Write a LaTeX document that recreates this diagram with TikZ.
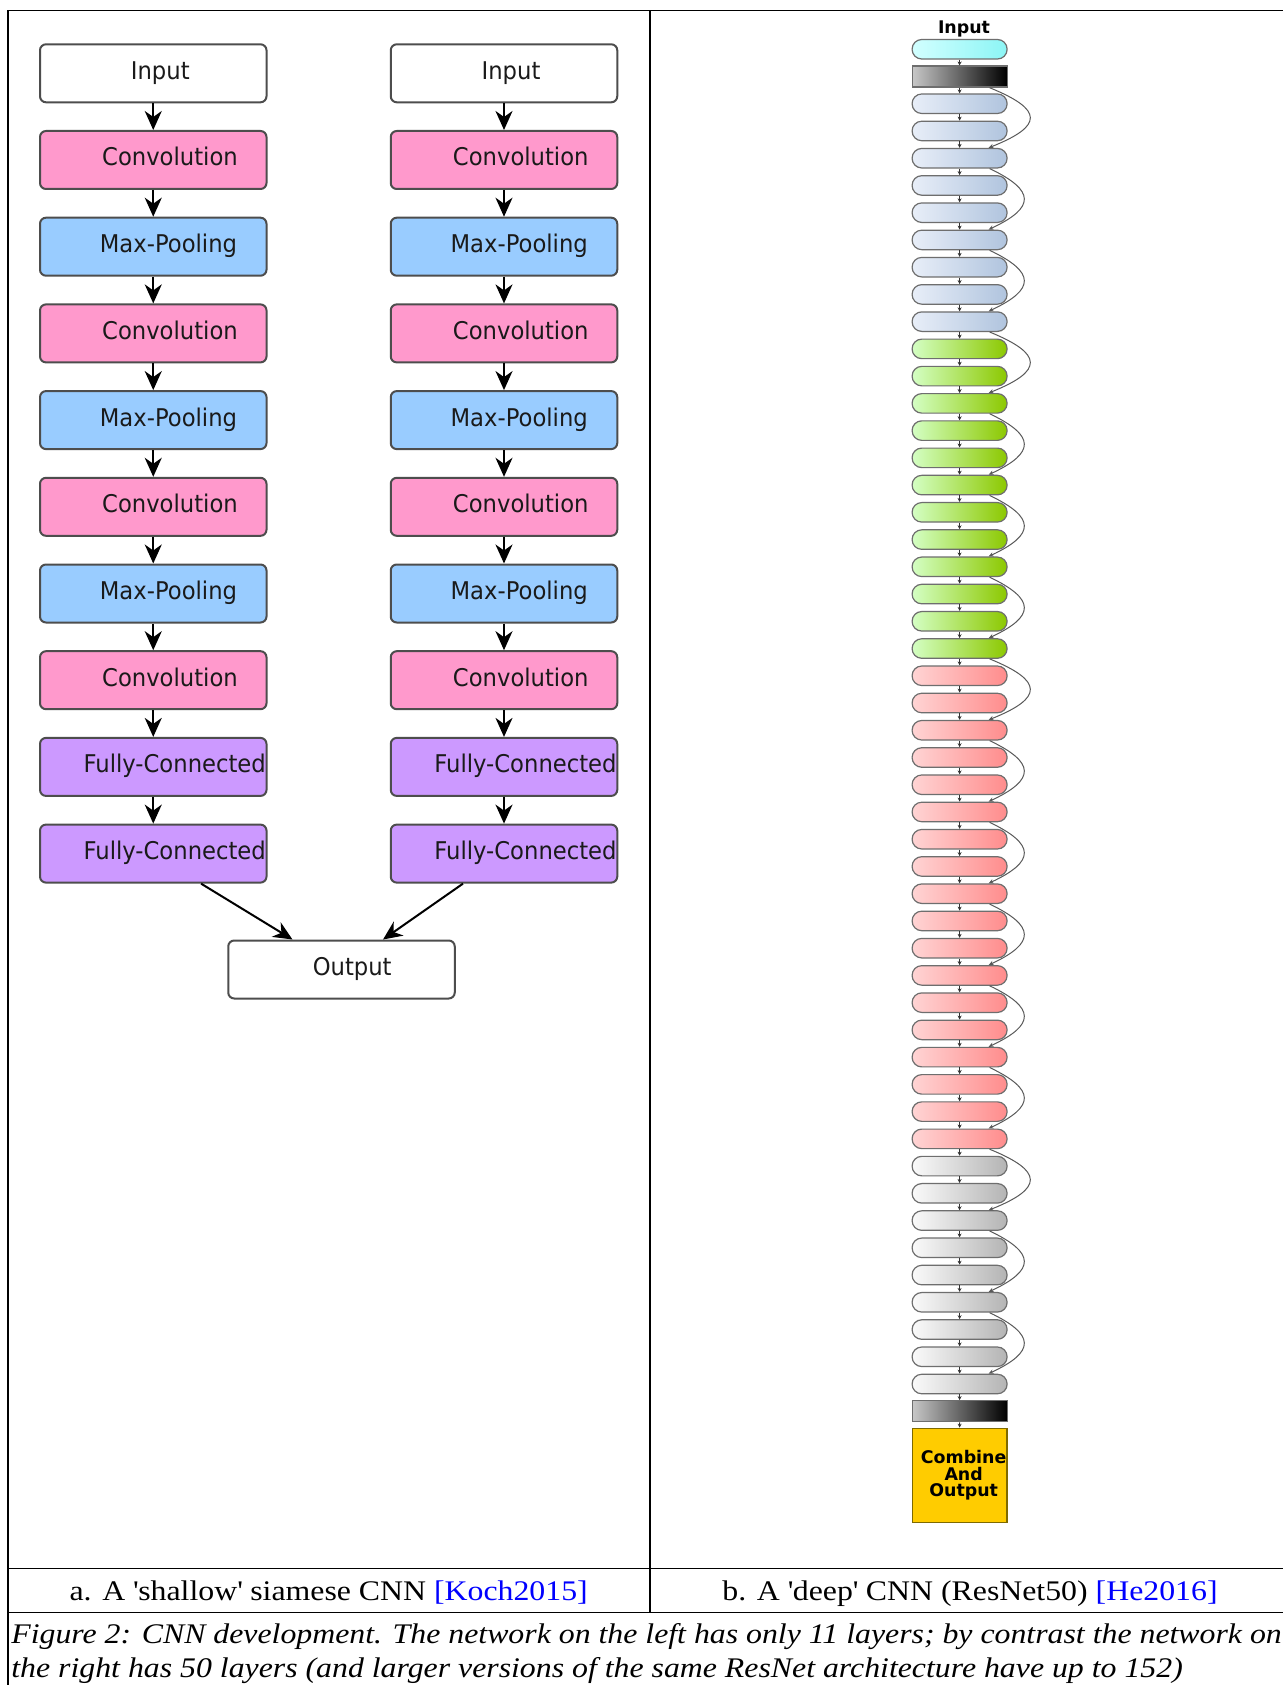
\documentclass[tikz,border=0pt]{standalone}
\usepackage{fontspec}
\usetikzlibrary{arrows.meta}
\newfontfamily\gvfont[FakeStretch=0.93]{DejaVu Sans}
\newfontfamily\rbfont{DejaVu Sans}
\newfontfamily\capfont[FakeStretch=1.12]{Liberation Serif}
\newcommand\capsize{\fontsize{14.2pt}{17pt}\selectfont}
\definecolor{convc}{HTML}{FF99CC}
\definecolor{poolc}{HTML}{99CCFF}
\definecolor{fcc}{HTML}{CC99FF}
\definecolor{boxline}{HTML}{4D4D4D}
\definecolor{gtext}{HTML}{1A1A1A}
\definecolor{pillline}{HTML}{6E6E6E}
\definecolor{cyanL}{HTML}{D2FFFF}
\definecolor{cyanR}{HTML}{8CF5F5}
\definecolor{blueL}{HTML}{E8EEF8}
\definecolor{blueR}{HTML}{B0C4DE}
\definecolor{greenL}{HTML}{D4FFC4}
\definecolor{greenR}{HTML}{8CC800}
\definecolor{redL}{HTML}{FFD4D4}
\definecolor{redR}{HTML}{FF8C8C}
\definecolor{grayL}{HTML}{FAFAFA}
\definecolor{grayR}{HTML}{B4B4B4}
\definecolor{barL}{HTML}{C8C8C8}
\definecolor{barR}{HTML}{000000}
\definecolor{combfill}{HTML}{FFCC00}
\definecolor{combline}{HTML}{7F6A00}
\definecolor{linkblue}{HTML}{0000FF}
\begin{document}
\begin{tikzpicture}[x=0.5pt,y=-0.5pt,
  gbox/.style={draw=boxline, line width=1pt, rounded corners=3pt, minimum width=113.25pt, minimum height=29pt, inner sep=0pt},
  glabel/.style={font=\gvfont\fontsize{12.2pt}{13pt}\selectfont, text=gtext, anchor=base west, inner sep=0pt},
  garr/.style={-{Stealth[length=9.5pt,width=8.5pt,inset=3pt]}, line width=1pt, draw=black},
  pill/.style={draw=pillline, line width=0.6pt, rounded corners=4.8pt, minimum width=47.5pt, minimum height=9.75pt, inner sep=0pt},
  bar/.style={draw=pillline, line width=0.6pt, minimum width=47.5pt, minimum height=10.5pt, inner sep=0pt, left color=barL, right color=barR},
  sarr/.style={-{Stealth[length=2pt,width=2pt]}, line width=0.4pt, draw=black!80},
  skipline/.style={-{Stealth[length=2.5pt,width=2.2pt]}, line width=0.5pt, draw=black!65},
  frameline/.style={line width=0.6pt, draw=black},
  capup/.style={font=\capfont\capsize, anchor=base, inner sep=0pt},
  capit/.style={font=\capfont\itshape\capsize, anchor=base west, inner sep=0pt},
  rlabel/.style={font=\rbfont\bfseries\fontsize{8.7pt}{8.25pt}\selectfont, inner sep=0pt}
]
\fill[white] (0,0) rectangle (1282,1685);
\useasboundingbox (0,0) rectangle (1282,1685);

% ---------- table frame ----------
\draw[frameline] (8,10.5) -- (1295,10.5);
\draw[frameline] (8,10.5) -- (8,1690);
\draw[frameline] (650,10.5) -- (650,1612.7);
\draw[frameline] (8,1568.3) -- (1295,1568.3);
\draw[frameline] (8,1612.7) -- (1295,1612.7);

% ---------- shallow siamese CNN ----------
\foreach \col/\cx in {L/153.25, R/504} {
  \node[gbox, fill=white] (in\col) at (\cx,73.3) {};
  \node[gbox, fill=convc] (c1\col) at (\cx,160.0) {};
  \node[gbox, fill=poolc] (p1\col) at (\cx,246.7) {};
  \node[gbox, fill=convc] (c2\col) at (\cx,333.4) {};
  \node[gbox, fill=poolc] (p2\col) at (\cx,420.1) {};
  \node[gbox, fill=convc] (c3\col) at (\cx,506.8) {};
  \node[gbox, fill=poolc] (p3\col) at (\cx,593.5) {};
  \node[gbox, fill=convc] (c4\col) at (\cx,680.2) {};
  \node[gbox, fill=fcc] (f1\col) at (\cx,766.9) {};
  \node[gbox, fill=fcc] (f2\col) at (\cx,853.6) {};
  \node[glabel] (tin\col) at ([shift={(91.5,6)}]in\col.west) {Input};
  \node[glabel] (tc1\col) at ([shift={(62.8,6)}]c1\col.west) {Convolution};
  \node[glabel] (tp1\col) at ([shift={(60.5,6)}]p1\col.west) {Max-Pooling};
  \node[glabel] (tc2\col) at ([shift={(62.8,6)}]c2\col.west) {Convolution};
  \node[glabel] (tp2\col) at ([shift={(60.5,6)}]p2\col.west) {Max-Pooling};
  \node[glabel] (tc3\col) at ([shift={(62.8,6)}]c3\col.west) {Convolution};
  \node[glabel] (tp3\col) at ([shift={(60.5,6)}]p3\col.west) {Max-Pooling};
  \node[glabel] (tc4\col) at ([shift={(62.8,6)}]c4\col.west) {Convolution};
  \begin{scope}
    \clip (f1\col.south west) rectangle (f1\col.north east);
    \node[glabel] (tf1\col) at ([shift={(44.2,6)}]f1\col.west) {Fully-Connected};
  \end{scope}
  \begin{scope}
    \clip (f2\col.south west) rectangle (f2\col.north east);
    \node[glabel] (tf2\col) at ([shift={(44.2,6)}]f2\col.west) {Fully-Connected};
  \end{scope}
  \foreach \a/\b in {in/c1, c1/p1, p1/c2, c2/p2, p2/c3, c3/p3, p3/c4, c4/f1, f1/f2}
    \draw[garr] (\a\col) -- (\b\col);
}
\node[gbox, fill=white] (outbox) at (341.5,969.5) {};
\node[glabel] (tout) at ([shift={(85.1,6)}]outbox.west) {Output};
\draw[garr] ([xshift=23.9pt]f2L.south) -- ([xshift=-24.5pt]outbox.north);
\draw[garr] ([xshift=-20.5pt]f2R.south) -- ([xshift=20.75pt]outbox.north);

% ---------- deep CNN (ResNet50) ----------
\node[rlabel, anchor=base] (rin) at (964,34) {Input};
\node[pill, left color=cyanL, right color=cyanR] (r0) at (959.6,49.25) {};
\node[bar] (r1) at (959.6,76.6) {};
\foreach \k in {2,...,10}
  \node[pill, left color=blueL, right color=blueR] (r\k) at (959.6,{49.25+27.24*\k}) {};
\foreach \k in {11,...,22}
  \node[pill, left color=greenL, right color=greenR] (r\k) at (959.6,{49.25+27.24*\k}) {};
\foreach \k in {23,...,40}
  \node[pill, left color=redL, right color=redR] (r\k) at (959.6,{49.25+27.24*\k}) {};
\foreach \k in {41,...,49}
  \node[pill, left color=grayL, right color=grayR] (r\k) at (959.6,{49.25+27.24*\k}) {};
\node[bar] (r50) at (959.6,1411.2) {};
\node[draw=combline, fill=combfill, line width=0.6pt, minimum width=47.35pt, minimum height=47.2pt, inner sep=0pt] (comb) at (959.65,1475.5) {};
\node[rlabel, align=center] (combtxt) at ([xshift=2pt]comb.center) {Combine\\And\\Output};

\foreach \k [count=\n from 1] in {0,...,49}
  \draw[sarr] (r\k) -- (r\n);
\draw[sarr] (r50) -- (comb);

\foreach \s in {4,7,13,16,19,25,28,31,34,37,43,46} {
  \pgfmathtruncatemacro{\tgt}{\s+3}
  \draw[skipline] ([xshift=15pt]r\s.south) .. controls +(46,22) and +(47,-22) .. ([xshift=14.5pt]r\tgt.north);
}
\foreach \s in {1,10,22,40} {
  \pgfmathtruncatemacro{\tgt}{\s+3}
  \draw[skipline] ([xshift=15pt]r\s.south) .. controls +(54,22) and +(55,-22) .. ([xshift=14.5pt]r\tgt.north);
}

% ---------- captions ----------
\node[capup] (suba) at (328.7,1600.7) {a. A \textquotesingle shallow\textquotesingle{} siamese CNN \textcolor{linkblue}{[Koch2015]}};
\node[capup] (subb) at (970,1600.7) {b. A \textquotesingle deep\textquotesingle{} CNN (ResNet50) \textcolor{linkblue}{[He2016]}};
\node[capit] (cap1) at (11,1643.3) {Figure 2: CNN development. The network on the left has only 11 layers; by contrast the network on};
\node[capit] (cap2) at (11,1677.3) {the right has 50 layers (and larger versions of the same ResNet architecture have up to 152)};
\end{tikzpicture}
\end{document}
